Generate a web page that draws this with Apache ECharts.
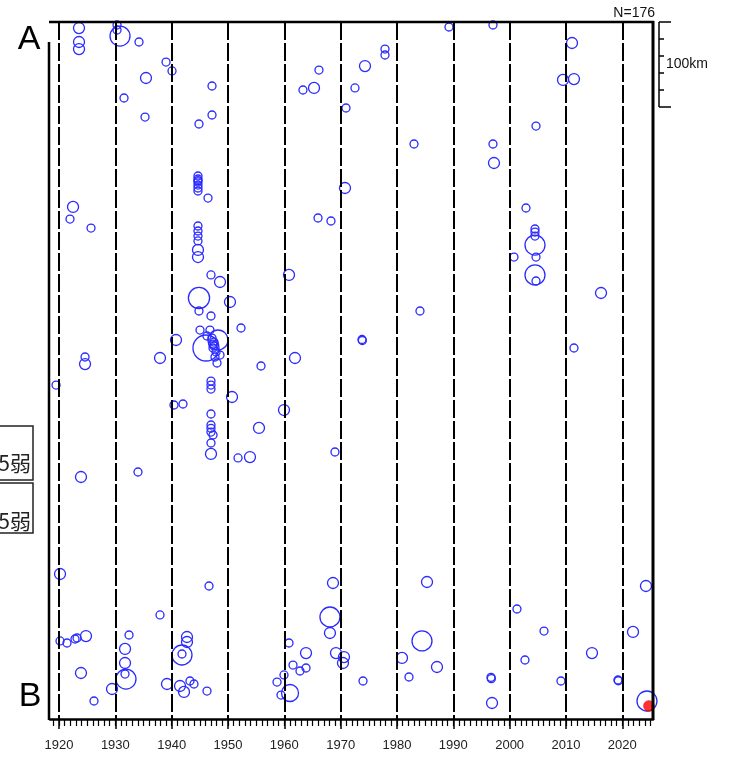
<!DOCTYPE html>
<html>
<head>
<meta charset="utf-8">
<script src="https://cdn.jsdelivr.net/npm/echarts@6/dist/echarts.min.js"></script>
<style>
html,body{margin:0;padding:0;background:#fff;}
#c{width:735px;height:758px;}
</style>
</head>
<body>
<div id="c"></div>
<script>
// ---- data (time vs. distance along A-B profile) ----
const decadeTicks = [1920,1930,1940,1950,1960,1970,1980,1990,2000,2010,2020];
const yearTicks = [];
for (let y = 1919; y <= 2025; y++) yearTicks.push(y);

const eventYear = [
1923.55,1923.55,1923.55,1930.3,1930.3,1930.83,1934.2,1939.0,1940.06,1935.44,
1947.16,1931.54,1935.27,1947.16,1944.85,1944.67,1944.67,1944.67,1944.67,1944.67,
1944.67,1946.45,1922.49,1921.95,1925.68,1944.67,1944.67,1944.67,1944.67,1944.67,
1944.67,1946.98,1948.58,1944.85,1950.35,1989.23,1977.87,1977.87,1974.32,1966.15,
1965.27,1963.31,1972.54,1970.95,1983.02,1970.77,1965.98,1968.28,1997.04,2011.07,
2009.47,2011.42,2004.68,1997.04,1997.22,2002.9,2004.5,2004.5,2004.5,2004.5,
2000.77,2004.68,2004.5,2004.68,2016.22,2011.42,1944.85,1946.98,1952.31,1945.03,
1946.8,1946.27,1947.16,1947.51,1948.22,1946.09,1947.34,1947.87,1948.58,1947.69,1948.05,1947.51,
1940.77,1937.93,1924.62,1924.62,1919.47,1946.98,1946.98,1946.98,1950.71,1940.41,1942.01,
1946.98,1946.98,1946.98,1947.34,1946.98,1946.98,1951.78,1953.9,1934.02,1923.9,1955.5,
1960.83,1984.08,1973.79,1973.85,1961.89,1955.86,1959.94,1968.99,
1920.18,1946.63,1937.93,1920.18,1921.42,1922.84,1923.2,1924.79,1932.43,1931.72,
1931.72,1931.72,1931.89,1923.9,1929.41,1926.21,1942.72,1942.72,1941.83,1941.83,
1939.17,1941.48,1942.19,1943.25,1943.96,1946.27,1968.64,1968.1,1968.1,1960.83,
1963.85,1969.17,1970.59,1970.41,1961.54,1962.78,1963.85,1959.94,1958.7,1959.41,
1961.01,1973.97,1985.33,1984.44,1980.89,1987.1,1982.13,2024.2,2001.3,2006.1,
2021.9,2014.62,2002.72,1996.69,1996.75,2009.11,2019.23,2019.3,1996.87,2024.38,
1944.67,1946.98,1947.3
];

const eventKm = [
7.1,23.5,31.8,3.5,9.4,16.5,23.5,47.1,57.6,65.9,
75.3,89.4,111.8,109.4,120,181.2,184.7,188.2,191.8,195.3,
198.8,207.1,217.6,231.8,242.4,240,245.9,251.8,257.6,268.2,
276.5,297.6,305.9,324.7,329.4,5.9,31.8,38.8,51.8,56.5,
77.6,80,77.6,101.2,143.5,195.3,230.6,234.1,3.5,24.7,
68.2,67.1,122.4,143.5,165.9,218.8,243.5,247.1,251.8,262.4,
276.5,276.5,297.6,304.7,318.8,383.5,340,345.9,360,362.4,
362.4,369.4,371.8,376.5,374.1,383.5,383.5,388.2,391.8,394.1,401.2,381.2,
374.1,395.3,394.1,402.4,427.1,422.4,427.1,431.8,441.2,450.6,449.4,
461.2,474.1,482.4,485.9,495.3,508.2,512.9,511.8,529.4,535.3,477.6,
297.6,340,373.5,374.7,395.3,404.7,456.5,505.9,
649.4,663.5,697.6,728.2,730.6,725.9,724.7,722.4,721.2,737.6,
754.1,767.1,773,765.9,784.7,798.8,723.5,729.4,744.7,743.5,
778.8,781.2,788.2,775.3,778.8,787.1,660,700,718.8,730.6,
742.4,742.4,747.1,754.1,756.5,763.5,760,768.2,776.5,791.8,
789.4,775.3,658.8,728.2,748.2,758.8,770.6,663.5,690.6,716.5,
717.6,742.4,750.6,771,772.5,775.3,774.1,775,801.2,798.8,
186.5,478,379
];

const eventMag = [
5.5,5.5,5.5,5,5,7,5,5,5,5.5,
5,5,5,5,5,5,5,5,5,5,
5,5,5.5,5,5,5,5,5,5,5.5,
5.5,5,5.5,7.2,5.5,5,5,5,5.5,5,
5.5,5,5,5,5,5.5,5,5,5,5.5,
5.5,5.5,5,5,5.5,5,5,5,5,7,
5,5,7,5,5.5,5,5,5,5,5,
5,5,5,5,7,8,5,5,5,5,5,5,
5.5,5.5,5,5.5,5,5,5,5,5.5,5,5,
5,5,5,5,5,5.5,5,5.5,5,5.5,5.5,
5.5,5,5,5,5.5,5,5.5,5,
5.5,5,5,5,5,5,5,5.5,5,5.5,
5.5,5,7,5.5,5.5,5,5.5,5.5,7,5,
5.5,5.5,5.5,5,5,5,5.5,7,5.5,5,
5.5,5.5,5.5,5.5,5,5,5,5,5,5,
6.5,5,5.5,7,5.5,5.5,5,5.5,5,5,
5.5,5.5,5,5,5,5,5,5,5.5,7,
5,5,5
];

const latestYear = [2024.73];
const latestKm = [804.7];
const latestMag = [5.5];

const countLabel = 'N=176';
const scaleKm = 100;

// ---- chart ----
const chart = echarts.init(document.getElementById('c'), null, {renderer: 'canvas'});
const X0 = 1918.4, X1 = 2025.45, Y0 = 0, Y1 = 820;
const G = {left: 50, right: 82, top: 22, bottom: 39};
const sizeFor = m => 8 + 6 * (m - 5);

const pts = eventYear.map((x, i) => [x, eventKm[i], eventMag[i]]);
const latest = latestYear.map((x, i) => [x, latestKm[i], latestMag[i]]);

const option = {
  animation: false,
  backgroundColor: '#fff',
  grid: Object.assign({containLabel: false, outerBoundsMode: 'none'}, G),
  xAxis: [{
    type: 'value', min: X0, max: X1, position: 'bottom',
    axisLine: {show: true, onZero: false, lineStyle: {color: '#000', width: 2.5}},
    axisTick: {show: true, length: 10, customValues: decadeTicks, lineStyle: {color: '#000', width: 1.5}},
    axisLabel: {show: true, customValues: decadeTicks, color: '#222', fontSize: 13,
      fontFamily: 'Liberation Sans, Arial, sans-serif', margin: 20,
      formatter: v => String(Math.round(v))},
    splitLine: {show: false}
  }, {
    type: 'value', min: X0, max: X1, position: 'bottom', offset: 0,
    axisLine: {show: false, onZero: false},
    axisTick: {show: true, length: 7, customValues: yearTicks, lineStyle: {color: '#000', width: 1.2}},
    axisLabel: {show: false},
    splitLine: {show: false}
  }],
  yAxis: {
    type: 'value', min: Y0, max: Y1, inverse: true,
    axisLine: {show: false}, axisTick: {show: false}, axisLabel: {show: false}, splitLine: {show: false}
  },
  series: [{
    type: 'scatter', name: 'grid', data: [], z: 1, silent: true,
    markLine: {
      silent: true, symbol: ['none', 'none'], label: {show: false},
      lineStyle: {color: '#000', width: 2, type: [18, 3]},
      emphasis: {disabled: true},
      data: decadeTicks.map(v => ({xAxis: v}))
    }
  }, {
    type: 'scatter', name: 'events', data: pts, z: 3, clip: false,
    symbol: 'circle',
    symbolSize: v => sizeFor(v[2]),
    itemStyle: {color: 'rgba(0,0,0,0)', borderColor: '#2a2aff', borderWidth: 1.3, opacity: 1}
  }, {
    type: 'scatter', name: 'latest', data: latest, z: 4, clip: false,
    symbol: 'circle', symbolSize: 11,
    itemStyle: {color: '#ff0000', borderColor: '#ee0000', borderWidth: 0.5}
  }]
};
chart.setOption(option);

// decorations: frame, scale bar, labels
const px = (x, y) => chart.convertToPixel({gridIndex: 0}, [x, y]);
const topY = px(X0, Y0)[1], botY = px(X0, Y1)[1];
const leftX = px(X0, 0)[0], rightX = px(X1, 0)[0];
const sb0 = px(X1, 0)[1], sb1 = px(X1, scaleKm)[1];
const sbx = rightX + 6;
const line = (x1, y1, x2, y2, w) => ({type: 'line', silent: true, z: 10,
  shape: {x1, y1, x2, y2}, style: {stroke: '#000', lineWidth: w}});
const g = [
  line(leftX - 1, topY, rightX + 1, topY, 2.5),
  line(rightX, topY - 1, rightX, botY + 1, 3),
  line(leftX - 1, topY + 20, leftX - 1, botY + 1, 2.5),
  line(sbx, sb0, sbx, sb1, 1.5),
  line(sbx, sb0, sbx + 12, sb0, 1.5),
  line(sbx, sb1, sbx + 12, sb1, 1.5)
];
for (let k = 20; k < scaleKm; k += 20) {
  const yy = px(X1, k)[1];
  g.push(line(sbx, yy, sbx + 5, yy, 1.5));
}
g.push({type: 'text', silent: true, z: 10, x: sbx + 7, y: (sb0 + sb1) / 2,
  style: {text: scaleKm + 'km', fontSize: 14, fill: '#111', fontFamily: 'Liberation Sans, Arial, sans-serif',
    align: 'left', verticalAlign: 'middle'}});
g.push({type: 'text', silent: true, z: 10, x: rightX + 2, y: 13,
  style: {text: countLabel, fontSize: 14, fill: '#111', fontFamily: 'Liberation Sans, Arial, sans-serif',
    align: 'right', verticalAlign: 'middle'}});
g.push({type: 'text', silent: true, z: 10, x: 29, y: 40,
  style: {text: 'A', fontSize: 34, fill: '#000', fontFamily: 'Liberation Sans, Arial, sans-serif',
    align: 'center', verticalAlign: 'middle'}});
g.push({type: 'text', silent: true, z: 10, x: 30, y: 697,
  style: {text: 'B', fontSize: 34, fill: '#000', fontFamily: 'Liberation Sans, Arial, sans-serif',
    align: 'center', verticalAlign: 'middle'}});
const boxes = [[426, 480, 463], [483, 533, 521]];
boxes.forEach(b => {
  g.push({type: 'rect', silent: true, z: 10, shape: {x: -10, y: b[0], width: 43, height: b[1] - b[0]},
    style: {fill: '#fff', stroke: '#222', lineWidth: 1.5}});
  g.push({type: 'text', silent: true, z: 11, x: 31, y: b[2],
    style: {text: '震度5弱', fontSize: 21, fill: '#222', fontFamily: 'Noto Sans CJK JP, sans-serif',
      align: 'right', verticalAlign: 'middle'}});
});
chart.setOption({graphic: g});
</script>
</body>
</html>
